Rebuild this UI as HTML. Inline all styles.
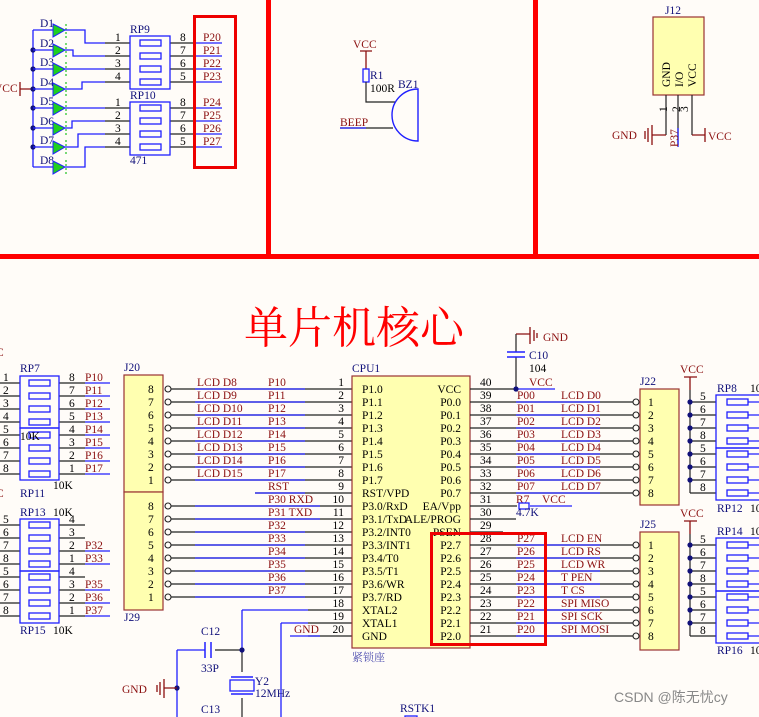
<!DOCTYPE html>
<html><head><meta charset="utf-8"><style>
html,body{margin:0;padding:0;background:#fffcf8;}
svg{display:block;}
text{font-family:"Liberation Serif","Noto Serif CJK SC",serif;font-size:11.5px;}
.r{fill:#8b1010}.b{fill:#10107a}.k{fill:#000}
.w{stroke:#2020ff;stroke-width:1.3;fill:none}
.bk{stroke:#222;stroke-width:1.2;fill:none}
.dr{stroke:#8b1010;stroke-width:1.3;fill:none}
.res{fill:none;stroke:#2020ff;stroke-width:1.3}
</style></head><body>
<svg width="759" height="717" viewBox="0 0 759 717" xmlns="http://www.w3.org/2000/svg">
<rect width="759" height="717" fill="#fffcf8"/>
<!-- red frame lines -->
<rect x="266" y="0" width="5" height="259" fill="#ff0000"/>
<rect x="533" y="0" width="5" height="259" fill="#ff0000"/>
<rect x="0" y="254" width="759" height="5" fill="#ff0000"/>

<!-- ===== LED section ===== -->
<text x="-6" y="92" class="r">VCC</text>
<path class="dr" d="M20 82V96M20 89H33"/>
<path class="w" d="M33 30V167"/>
<g fill="#10107a"><circle cx="33" cy="50" r="2.6"/><circle cx="33" cy="69" r="2.6"/><circle cx="33" cy="89" r="2.6"/><circle cx="33" cy="108" r="2.6"/><circle cx="33" cy="128" r="2.6"/><circle cx="33" cy="147" r="2.6"/></g>
<g class="b"><text x="40" y="27">D1</text><text x="40" y="47">D2</text><text x="40" y="66">D3</text><text x="40" y="86">D4</text><text x="40" y="105">D5</text><text x="40" y="125">D6</text><text x="40" y="144">D7</text><text x="40" y="164">D8</text></g>
<g stroke="#20c020" stroke-width="1.2" stroke-dasharray="2,2" fill="none">
<path d="M66 24V38M66 43V57M66 62V76M66 82V96M66 101V115M66 121V135M66 140V154M66 160V174"/></g>
<g fill="#20d020" stroke="#2020ff" stroke-width="1">
<path d="M53 24L65 30L53 37Z"/><path d="M53 44L65 50L53 57Z"/><path d="M53 63L65 69L53 76Z"/><path d="M53 83L65 89L53 96Z"/>
<path d="M53 102L65 108L53 115Z"/><path d="M53 122L65 128L53 135Z"/><path d="M53 141L65 147L53 154Z"/><path d="M53 161L65 167L53 174Z"/></g>
<path class="w" d="M33 30H53M33 50H53M33 69H53M33 89H53M33 108H53M33 128H53M33 147H53M33 167H53"/>
<path class="w" d="M65 30H85V43H105M65 50H73V56H105M65 69H105M65 89H82V82H105M65 108H105M65 128H72V121H105M65 147H78V134H105M65 167H85V147H105"/>
<path class="bk" d="M105 43H130M105 56H130M105 69H130M105 82H130M105 108H130M105 121H130M105 134H130M105 147H130M170 43H193M170 56H193M170 69H193M170 82H193M170 108H193M170 121H193M170 134H193M170 147H193"/>
<path class="w" d="M193 43H222M193 56H222M193 69H222M193 82H222M193 108H222M193 121H222M193 134H222M193 147H222"/>
<rect x="130" y="36" width="40" height="53" class="res"/><rect x="130" y="102" width="40" height="53" class="res"/>
<g class="res"><rect x="140" y="40" width="21" height="6"/><rect x="140" y="53" width="21" height="6"/><rect x="140" y="66" width="21" height="6"/><rect x="140" y="79" width="21" height="6"/><rect x="140" y="105" width="21" height="6"/><rect x="140" y="118" width="21" height="6"/><rect x="140" y="131" width="21" height="6"/><rect x="140" y="144" width="21" height="6"/></g>
<g class="k"><text x="115" y="41">1</text><text x="115" y="54">2</text><text x="115" y="67">3</text><text x="115" y="80">4</text><text x="115" y="106">1</text><text x="115" y="119">2</text><text x="115" y="132">3</text><text x="115" y="145">4</text>
<text x="180" y="41">8</text><text x="180" y="54">7</text><text x="180" y="67">6</text><text x="180" y="80">5</text><text x="180" y="106">8</text><text x="180" y="119">7</text><text x="180" y="132">6</text><text x="180" y="145">5</text></g>
<text x="130" y="33" class="b">RP9</text><text x="130" y="99" class="b">RP10</text><text x="130" y="164" class="b">471</text>
<g class="r"><text x="203" y="41">P20</text><text x="203" y="54">P21</text><text x="203" y="67">P22</text><text x="203" y="80">P23</text><text x="203" y="106">P24</text><text x="203" y="119">P25</text><text x="203" y="132">P26</text><text x="203" y="145">P27</text></g>
<rect x="194.5" y="16.5" width="41" height="151" fill="none" stroke="#ee0000" stroke-width="3"/>

<!-- ===== Buzzer ===== -->
<text x="353" y="48" class="r">VCC</text>
<path class="dr" d="M360 51H372M366 51V69"/>
<rect x="363" y="69" width="6" height="13" class="res"/>
<path class="bk" d="M366 82V102H395M340 128H393"/>
<path class="w" d="M340 128H366"/>
<text x="370" y="79" class="b">R1</text><text x="370" y="92" class="k" fill="#10107a">100R</text>
<text x="398" y="88" class="b">BZ1</text>
<path d="M418 89A26 26 0 0 0 418 141Z" fill="none" stroke="#2020ff" stroke-width="1.4"/>
<text x="340" y="126" class="r">BEEP</text>

<!-- ===== J12 ===== -->
<text x="665" y="14" class="b">J12</text>
<rect x="653" y="17" width="51" height="78" fill="#ffffb0" stroke="#993333" stroke-width="1.2"/>
<g class="k"><text transform="translate(670,87) rotate(-90)">GND</text><text transform="translate(683,87) rotate(-90)">I/O</text><text transform="translate(696,87) rotate(-90)">VCC</text>
<text transform="translate(667,112) rotate(-90)" font-size="9">1</text><text transform="translate(680,112) rotate(-90)" font-size="9">2</text><text transform="translate(688,112) rotate(-90)" font-size="9">3</text></g>
<path class="bk" d="M666 95V135M678 95V145M692 95V135"/>
<path class="w" d="M678 128V147"/>
<path class="dr" d="M666 135H652M652 125V145M648 128V142M645 131V139M692 135H705M705 128V142"/>
<text x="612" y="139" class="r">GND</text><text x="708" y="140" class="r">VCC</text>
<text transform="translate(678,147) rotate(-90)" class="r" font-size="11">P37</text>

<!-- ===== Title ===== -->
<text x="244" y="343" fill="#ff0000" style="font-family:'Noto Serif CJK SC',serif;font-size:44px">单片机核心</text>

<!-- ===== Left RP7/RP11 ===== -->
<path class="bk" d="M0 383H20M0 396H20M0 409H20M0 422H20M0 435H20M0 448H20M0 461H20M0 474H20M59 383H85M59 396H85M59 409H85M59 422H85M59 435H85M59 448H85M59 461H85M59 474H85"/>
<path class="w" d="M85 383H110M85 396H110M85 409H110M85 422H110M85 435H110M85 448H110M85 461H110M85 474H110"/>
<rect x="20" y="376" width="39" height="52" class="res"/><rect x="20" y="428" width="39" height="52" class="res"/>
<g class="res"><rect x="29" y="380" width="21" height="6"/><rect x="29" y="393" width="21" height="6"/><rect x="29" y="406" width="21" height="6"/><rect x="29" y="419" width="21" height="6"/><rect x="29" y="432" width="21" height="6"/><rect x="29" y="445" width="21" height="6"/><rect x="29" y="458" width="21" height="6"/><rect x="29" y="471" width="21" height="6"/></g>
<g class="k"><text x="3" y="381">1</text><text x="3" y="394">2</text><text x="3" y="407">3</text><text x="3" y="420">4</text><text x="3" y="433">5</text><text x="3" y="446">6</text><text x="3" y="459">7</text><text x="3" y="472">8</text>
<text x="69" y="381">8</text><text x="69" y="394">7</text><text x="69" y="407">6</text><text x="69" y="420">5</text><text x="69" y="433">4</text><text x="69" y="446">3</text><text x="69" y="459">2</text><text x="69" y="472">1</text></g>
<g class="r"><text x="85" y="381">P10</text><text x="85" y="394">P11</text><text x="85" y="407">P12</text><text x="85" y="420">P13</text><text x="85" y="433">P14</text><text x="85" y="446">P15</text><text x="85" y="459">P16</text><text x="85" y="472">P17</text></g>
<text x="20" y="372" class="b">RP7</text><text x="20" y="440" class="k">10K</text><text x="53" y="489" class="k">10K</text><text x="20" y="497" class="b">RP11</text>
<text x="-4" y="356" class="r">C</text><text x="-4" y="497" class="r">C</text>

<!-- RP13/RP15 -->
<path class="bk" d="M0 525H20M0 538H20M0 551H20M0 564H20M0 577H20M0 590H20M0 603H20M0 616H20M59 525H85M59 538H85M59 551H85M59 564H85M59 577H85M59 590H85M59 603H85M59 616H85"/>
<path class="w" d="M85 551H110M85 564H110M85 590H110M85 603H110M85 616H110"/>
<rect x="20" y="519" width="39" height="52" class="res"/><rect x="20" y="571" width="39" height="52" class="res"/>
<g class="res"><rect x="29" y="522" width="21" height="6"/><rect x="29" y="535" width="21" height="6"/><rect x="29" y="548" width="21" height="6"/><rect x="29" y="561" width="21" height="6"/><rect x="29" y="574" width="21" height="6"/><rect x="29" y="587" width="21" height="6"/><rect x="29" y="600" width="21" height="6"/><rect x="29" y="613" width="21" height="6"/></g>
<g class="k"><text x="3" y="523">5</text><text x="3" y="536">6</text><text x="3" y="549">7</text><text x="3" y="562">8</text><text x="3" y="575">5</text><text x="3" y="588">6</text><text x="3" y="601">7</text><text x="3" y="614">8</text>
<text x="69" y="523">4</text><text x="69" y="536">3</text><text x="69" y="549">2</text><text x="69" y="562">1</text><text x="69" y="575">4</text><text x="69" y="588">3</text><text x="69" y="601">2</text><text x="69" y="614">1</text></g>
<g class="r"><text x="85" y="549">P32</text><text x="85" y="562">P33</text><text x="85" y="588">P35</text><text x="85" y="601">P36</text><text x="85" y="614">P37</text></g>
<text x="20" y="516" class="b">RP13</text><text x="53" y="516" class="k">10K</text><text x="20" y="634" class="b">RP15</text><text x="53" y="634" class="k">10K</text>

<!-- ===== J20 / J29 ===== -->
<text x="124" y="371" class="b">J20</text><text x="124" y="621" class="b">J29</text>
<rect x="124" y="375" width="39" height="117" fill="#ffffb0" stroke="#993333" stroke-width="1.2"/>
<rect x="124" y="492" width="39" height="118" fill="#ffffb0" stroke="#993333" stroke-width="1.2"/>
<g class="k"><text x="148" y="393">8</text><text x="148" y="406">7</text><text x="148" y="419">6</text><text x="148" y="432">5</text><text x="148" y="445">4</text><text x="148" y="458">3</text><text x="148" y="471">2</text><text x="148" y="484">1</text>
<text x="148" y="510">8</text><text x="148" y="523">7</text><text x="148" y="536">6</text><text x="148" y="549">5</text><text x="148" y="562">4</text><text x="148" y="575">3</text><text x="148" y="588">2</text><text x="148" y="601">1</text></g>
<path class="bk" d="M171 389H352M171 402H352M171 415H352M171 428H352M171 441H352M171 454H352M171 467H352M171 480H352M255 493H352M171 506H352M171 519H352M171 532H352M171 545H352M171 558H352M171 571H352M171 584H352M171 597H352M308 610H352M308 623H352M308 636H352"/>
<path class="w" d="M195 389H305M195 402H305M195 415H305M195 428H305M195 441H305M195 454H305M195 467H305M195 480H305M255 493H305M195 506H320M195 519H320M195 532H305M195 545H305M195 558H305M195 571H305M195 584H305M195 597H305M242 610H308V610M281 623H308M290 636H320"/>
<g fill="#fffcf8" stroke="#222" stroke-width="1.1"><circle cx="168" cy="389" r="3"/><circle cx="168" cy="402" r="3"/><circle cx="168" cy="415" r="3"/><circle cx="168" cy="428" r="3"/><circle cx="168" cy="441" r="3"/><circle cx="168" cy="454" r="3"/><circle cx="168" cy="467" r="3"/><circle cx="168" cy="480" r="3"/>
<circle cx="168" cy="506" r="3"/><circle cx="168" cy="519" r="3"/><circle cx="168" cy="532" r="3"/><circle cx="168" cy="545" r="3"/><circle cx="168" cy="558" r="3"/><circle cx="168" cy="571" r="3"/><circle cx="168" cy="584" r="3"/><circle cx="168" cy="597" r="3"/></g>
<g class="r"><text x="197" y="386">LCD  D8</text><text x="197" y="399">LCD  D9</text><text x="197" y="412">LCD  D10</text><text x="197" y="425">LCD  D11</text><text x="197" y="438">LCD  D12</text><text x="197" y="451">LCD  D13</text><text x="197" y="464">LCD  D14</text><text x="197" y="477">LCD  D15</text>
<text x="268" y="386">P10</text><text x="268" y="399">P11</text><text x="268" y="412">P12</text><text x="268" y="425">P13</text><text x="268" y="438">P14</text><text x="268" y="451">P15</text><text x="268" y="464">P16</text><text x="268" y="477">P17</text><text x="268" y="490">RST</text>
<text x="268" y="503">P30  RXD</text><text x="268" y="516">P31  TXD</text><text x="268" y="529">P32</text><text x="268" y="542">P33</text><text x="268" y="555">P34</text><text x="268" y="568">P35</text><text x="268" y="581">P36</text><text x="268" y="594">P37</text><text x="294" y="633">GND</text></g>
<g class="k" text-anchor="end"><text x="344" y="386">1</text><text x="344" y="399">2</text><text x="344" y="412">3</text><text x="344" y="425">4</text><text x="344" y="438">5</text><text x="344" y="451">6</text><text x="344" y="464">7</text><text x="344" y="477">8</text><text x="344" y="490">9</text><text x="344" y="503">10</text><text x="344" y="516">11</text><text x="344" y="529">12</text><text x="344" y="542">13</text><text x="344" y="555">14</text><text x="344" y="568">15</text><text x="344" y="581">16</text><text x="344" y="594">17</text><text x="344" y="607">18</text><text x="344" y="620">19</text><text x="344" y="633">20</text></g>

<!-- ===== CPU ===== -->
<text x="352" y="372" class="b">CPU1</text>
<rect x="352" y="376" width="118" height="272" fill="#ffffb0" stroke="#993333" stroke-width="1.2"/>
<g class="k"><text x="362" y="393">P1.0</text><text x="362" y="406">P1.1</text><text x="362" y="419">P1.2</text><text x="362" y="432">P1.3</text><text x="362" y="445">P1.4</text><text x="362" y="458">P1.5</text><text x="362" y="471">P1.6</text><text x="362" y="484">P1.7</text><text x="362" y="497">RST/VPD</text><text x="362" y="510">P3.0/RxD</text><text x="362" y="523">P3.1/TxD</text><text x="362" y="536">P3.2/INT0</text><text x="362" y="549">P3.3/INT1</text><text x="362" y="562">P3.4/T0</text><text x="362" y="575">P3.5/T1</text><text x="362" y="588">P3.6/WR</text><text x="362" y="601">P3.7/RD</text><text x="362" y="614">XTAL2</text><text x="362" y="627">XTAL1</text><text x="362" y="640">GND</text></g>
<g class="k" text-anchor="end"><text x="461" y="393">VCC</text><text x="461" y="406">P0.0</text><text x="461" y="419">P0.1</text><text x="461" y="432">P0.2</text><text x="461" y="445">P0.3</text><text x="461" y="458">P0.4</text><text x="461" y="471">P0.5</text><text x="461" y="484">P0.6</text><text x="461" y="497">P0.7</text><text x="461" y="510">EA/Vpp</text><text x="461" y="523">ALE/PROG</text><text x="461" y="536">PSEN</text><text x="461" y="549">P2.7</text><text x="461" y="562">P2.6</text><text x="461" y="575">P2.5</text><text x="461" y="588">P2.4</text><text x="461" y="601">P2.3</text><text x="461" y="614">P2.2</text><text x="461" y="627">P2.1</text><text x="461" y="640">P2.0</text></g>
<text x="352" y="661" fill="#5050b0" style="font-family:'Noto Serif CJK SC',serif;font-size:11px">紧锁座</text>
<path class="bk" d="M470 389H516M470 402H636M470 415H636M470 428H636M470 441H636M470 454H636M470 467H636M470 480H636M470 493H636M470 506H517M470 519H516M470 532H503M470 545H636M470 558H636M470 571H636M470 584H636M470 597H636M470 610H636M470 623H636M470 636H636"/>
<path class="w" d="M516 389H555M516 402H600M516 415H600M516 428H600M516 441H600M516 454H600M516 467H600M516 480H600M516 493H600M516 545H600M516 558H600M516 571H600M516 584H600M516 597H600M516 610H600M516 623H600M516 636H600M530 506H572"/>
<g class="k"><text x="480" y="386">40</text><text x="480" y="399">39</text><text x="480" y="412">38</text><text x="480" y="425">37</text><text x="480" y="438">36</text><text x="480" y="451">35</text><text x="480" y="464">34</text><text x="480" y="477">33</text><text x="480" y="490">32</text><text x="480" y="503">31</text><text x="480" y="516">30</text><text x="480" y="529">29</text><text x="480" y="542">28</text><text x="480" y="555">27</text><text x="480" y="568">26</text><text x="480" y="581">25</text><text x="480" y="594">24</text><text x="480" y="607">23</text><text x="480" y="620">22</text><text x="480" y="633">21</text></g>
<g class="r"><text x="529" y="386">VCC</text><text x="517" y="399">P00</text><text x="517" y="412">P01</text><text x="517" y="425">P02</text><text x="517" y="438">P03</text><text x="517" y="451">P04</text><text x="517" y="464">P05</text><text x="517" y="477">P06</text><text x="517" y="490">P07</text><text x="516" y="503">R7</text><text x="542" y="503">VCC</text>
<text x="517" y="542">P27</text><text x="517" y="555">P26</text><text x="517" y="568">P25</text><text x="517" y="581">P24</text><text x="517" y="594">P23</text><text x="517" y="607">P22</text><text x="517" y="620">P21</text><text x="517" y="633">P20</text>
<text x="561" y="399">LCD  D0</text><text x="561" y="412">LCD  D1</text><text x="561" y="425">LCD  D2</text><text x="561" y="438">LCD  D3</text><text x="561" y="451">LCD  D4</text><text x="561" y="464">LCD  D5</text><text x="561" y="477">LCD  D6</text><text x="561" y="490">LCD  D7</text>
<text x="561" y="542">LCD  EN</text><text x="561" y="555">LCD  RS</text><text x="561" y="568">LCD  WR</text><text x="561" y="581">T  PEN</text><text x="561" y="594">T  CS</text><text x="561" y="607">SPI  MISO</text><text x="561" y="620">SPI  SCK</text><text x="561" y="633">SPI  MOSI</text></g>
<rect x="519" y="503" width="10" height="6" class="res"/><text x="516" y="516" class="b">4.7K</text>
<rect x="431.5" y="533.5" width="114" height="111" fill="none" stroke="#ee0000" stroke-width="3"/>
<!-- C10 -->
<path class="bk" d="M516 389V357M516 352V334"/>
<path class="dr" d="M516 334H530M530 327V344M534 330V341M537 333V338"/>
<path d="M507 352H525M507 357H525" stroke="#2020ff" stroke-width="1.5"/>
<circle cx="516" cy="389" r="2.6" fill="#10107a"/>
<text x="543" y="341" class="r">GND</text><text x="529" y="359" class="b">C10</text><text x="529" y="372" class="k">104</text>

<!-- J22 / J25 -->
<text x="640" y="385" class="b">J22</text><text x="640" y="528" class="b">J25</text>
<rect x="640" y="389" width="39" height="116" fill="#ffffb0" stroke="#993333" stroke-width="1.2"/>
<rect x="640" y="532" width="39" height="118" fill="#ffffb0" stroke="#993333" stroke-width="1.2"/>
<g fill="#fffcf8" stroke="#222" stroke-width="1.1"><circle cx="636" cy="402" r="3"/><circle cx="636" cy="415" r="3"/><circle cx="636" cy="428" r="3"/><circle cx="636" cy="441" r="3"/><circle cx="636" cy="454" r="3"/><circle cx="636" cy="467" r="3"/><circle cx="636" cy="480" r="3"/><circle cx="636" cy="493" r="3"/>
<circle cx="636" cy="545" r="3"/><circle cx="636" cy="558" r="3"/><circle cx="636" cy="571" r="3"/><circle cx="636" cy="584" r="3"/><circle cx="636" cy="597" r="3"/><circle cx="636" cy="610" r="3"/><circle cx="636" cy="623" r="3"/><circle cx="636" cy="636" r="3"/></g>
<g class="k"><text x="648" y="406">1</text><text x="648" y="419">2</text><text x="648" y="432">3</text><text x="648" y="445">4</text><text x="648" y="458">5</text><text x="648" y="471">6</text><text x="648" y="484">7</text><text x="648" y="497">8</text>
<text x="648" y="549">1</text><text x="648" y="562">2</text><text x="648" y="575">3</text><text x="648" y="588">4</text><text x="648" y="601">5</text><text x="648" y="614">6</text><text x="648" y="627">7</text><text x="648" y="640">8</text></g>

<!-- right RP8/12 & RP14/16 -->
<text x="680" y="373" class="r">VCC</text><text x="680" y="517" class="r">VCC</text>
<path class="dr" d="M684 377H697M690 377V390M684 521H697M690 521V534"/>
<path class="bk" d="M690 390V493M690 534V636"/>
<path class="bk" d="M690 402H716M690 415H716M690 428H716M690 441H716M690 454H716M690 467H716M690 480H716M690 493H716M690 545H716M690 558H716M690 571H716M690 584H716M690 597H716M690 610H716M690 623H716M690 636H716"/>
<path class="w" d="M748 402H759M748 415H759M748 428H759M748 441H759M748 454H759M748 467H759M748 480H759M748 493H759M748 545H759M748 558H759M748 571H759M748 584H759M748 597H759M748 610H759M748 623H759M748 636H759"/>
<g fill="#10107a"><circle cx="690" cy="402" r="2.6"/><circle cx="690" cy="415" r="2.6"/><circle cx="690" cy="428" r="2.6"/><circle cx="690" cy="441" r="2.6"/><circle cx="690" cy="454" r="2.6"/><circle cx="690" cy="467" r="2.6"/><circle cx="690" cy="480" r="2.6"/>
<circle cx="690" cy="545" r="2.6"/><circle cx="690" cy="558" r="2.6"/><circle cx="690" cy="571" r="2.6"/><circle cx="690" cy="584" r="2.6"/><circle cx="690" cy="597" r="2.6"/><circle cx="690" cy="610" r="2.6"/><circle cx="690" cy="623" r="2.6"/></g>
<g class="k"><text x="700" y="400">5</text><text x="700" y="413">6</text><text x="700" y="426">7</text><text x="700" y="439">8</text><text x="700" y="452">5</text><text x="700" y="465">6</text><text x="700" y="478">7</text><text x="700" y="491">8</text>
<text x="700" y="543">5</text><text x="700" y="556">6</text><text x="700" y="569">7</text><text x="700" y="582">8</text><text x="700" y="595">5</text><text x="700" y="608">6</text><text x="700" y="621">7</text><text x="700" y="634">8</text></g>
<rect x="716" y="395" width="45" height="53" class="res"/><rect x="716" y="448" width="45" height="52" class="res"/>
<rect x="716" y="538" width="45" height="53" class="res"/><rect x="716" y="591" width="45" height="52" class="res"/>
<g class="res"><rect x="727" y="399" width="21" height="6"/><rect x="727" y="412" width="21" height="6"/><rect x="727" y="425" width="21" height="6"/><rect x="727" y="438" width="21" height="6"/><rect x="727" y="451" width="21" height="6"/><rect x="727" y="464" width="21" height="6"/><rect x="727" y="477" width="21" height="6"/><rect x="727" y="490" width="21" height="6"/>
<rect x="727" y="542" width="21" height="6"/><rect x="727" y="555" width="21" height="6"/><rect x="727" y="568" width="21" height="6"/><rect x="727" y="581" width="21" height="6"/><rect x="727" y="594" width="21" height="6"/><rect x="727" y="607" width="21" height="6"/><rect x="727" y="620" width="21" height="6"/><rect x="727" y="633" width="21" height="6"/></g>
<text x="717" y="392" class="b">RP8</text><text x="750" y="392" class="k">10</text>
<text x="717" y="512" class="b">RP12</text><text x="750" y="512" class="k">10</text>
<text x="717" y="535" class="b">RP14</text><text x="750" y="535" class="k">10</text>
<text x="717" y="654" class="b">RP16</text><text x="750" y="654" class="k">10</text>

<!-- crystal area -->
<path class="w" d="M242 610V650M177 650H205M177 650V717M281 623V717"/>
<path class="bk" d="M215 650H242M205 650H205M242 650V672M242 698V717"/>
<path d="M205 642V658M211 642V658" stroke="#2020ff" stroke-width="1.5"/>
<circle cx="242" cy="650" r="2.6" fill="#10107a"/><circle cx="177" cy="688" r="2.6" fill="#10107a"/>
<path d="M231 677H253M231 694H253" stroke="#2020ff" stroke-width="1.5"/>
<rect x="230" y="680" width="24" height="11" fill="none" stroke="#2020ff" stroke-width="1.3"/>
<path class="dr" d="M177 688H164M164 679V698M160 682V695M157 685V692"/>
<text x="122" y="693" class="r">GND</text>
<text x="201" y="635" class="b">C12</text><text x="201" y="672" class="b">33P</text>
<text x="255" y="685" class="b">Y2</text><text x="255" y="697" class="b">12MHz</text>
<text x="201" y="713" class="b">C13</text><text x="400" y="712" class="b">RSTK1</text>
<rect x="405" y="716" width="12" height="4" class="res"/>

<text x="614" y="702" fill="#888" style="font-family:'Liberation Sans','Noto Sans CJK SC',sans-serif;font-size:14px">CSDN @陈无忧cy</text>
</svg>
</body></html>
